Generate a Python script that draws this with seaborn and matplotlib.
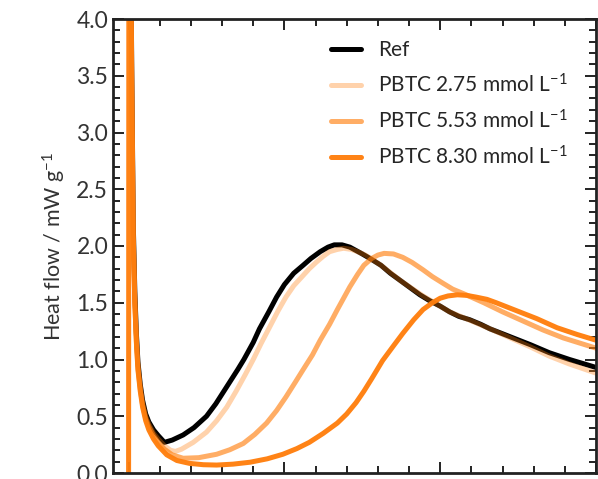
import numpy as np
import pandas as pd
import matplotlib
matplotlib.use("Agg")
import matplotlib.pyplot as plt
from matplotlib.ticker import MultipleLocator
import seaborn as sns

# ---- data (time in h, heat flow in mW/g) ----
labels = ["Ref", "PBTC 2.75 mmol L$^{-1}$", "PBTC 5.53 mmol L$^{-1}$", "PBTC 8.30 mmol L$^{-1}$"]

t_ref = [0.1, 0.2, 0.3, 0.4, 0.5, 0.6, 0.75, 0.9, 1.1, 1.3, 1.6, 1.9, 2.3, 2.8, 3.5, 4.2, 4.6, 5.0, 5.6,
         6.3, 7.0, 7.4, 8.0, 8.4, 9.0, 9.5, 10.0, 10.6, 11.2, 11.7, 12.3, 12.8, 13.2, 13.7, 14.2, 14.6,
         15.0, 15.5, 16.2, 16.8, 17.5, 18.1, 18.7, 19.3, 20.0, 20.6, 21.2, 21.9, 22.6, 23.2, 24.5, 25.8,
         27.0, 28.3, 30.0]
hf_ref = [5.5, 3.6, 2.2, 1.6, 1.23, 0.98, 0.78, 0.64, 0.52, 0.45, 0.38, 0.33, 0.27, 0.29, 0.335, 0.40,
          0.45, 0.50, 0.61, 0.76, 0.91, 1.0, 1.15, 1.27, 1.42, 1.55, 1.66, 1.76, 1.83, 1.89, 1.95, 1.99,
          2.01, 2.01, 1.99, 1.96, 1.93, 1.89, 1.83, 1.76, 1.69, 1.63, 1.57, 1.52, 1.47, 1.42, 1.38, 1.35,
          1.31, 1.27, 1.20, 1.13, 1.06, 1.00, 0.93]

t_275 = [0.1, 0.2, 0.3, 0.4, 0.5, 0.6, 0.75, 0.9, 1.1, 1.3, 1.6, 1.9, 2.3, 2.7, 3.0, 3.4, 4.15, 5.0, 5.65,
         6.3, 6.9, 7.5, 8.0, 8.5, 9.07, 9.6, 10.1, 10.6, 11.2, 11.6, 12.07, 12.5, 12.9, 13.4, 13.8, 14.3,
         14.7, 15.2, 16.2, 17.5, 18.9, 20.6, 22.0, 23.2, 24.5, 25.8, 27.0, 28.3, 30.0]
hf_275 = [5.3, 3.5, 2.1, 1.55, 1.2, 0.95, 0.76, 0.62, 0.50, 0.43, 0.35, 0.30, 0.24, 0.20, 0.19, 0.21,
          0.27, 0.36, 0.46, 0.58, 0.72, 0.87, 1.0, 1.14, 1.29, 1.43, 1.55, 1.65, 1.74, 1.80, 1.86, 1.91,
          1.95, 1.97, 1.98, 1.97, 1.95, 1.92, 1.83, 1.69, 1.56, 1.42, 1.34, 1.27, 1.19, 1.11, 1.03, 0.96,
          0.88]

t_553 = [0.1, 0.2, 0.3, 0.4, 0.5, 0.6, 0.75, 0.9, 1.1, 1.3, 1.6, 1.9, 2.3, 2.8, 3.5, 4.5, 5.65, 6.5, 7.36,
         8.1, 8.86, 9.5, 10.1, 10.7, 11.2, 11.8, 12.3, 12.9, 13.4, 13.8, 14.2, 14.7, 15.1, 15.6, 16.0,
         16.4, 17.0, 17.6, 18.2, 18.9, 19.5, 20.2, 20.8, 21.5, 22.8, 24.0, 25.3, 26.6, 27.9, 30.0]
hf_553 = [5.3, 3.4, 2.05, 1.5, 1.17, 0.93, 0.74, 0.60, 0.48, 0.41, 0.33, 0.27, 0.21, 0.16, 0.13, 0.135,
          0.165, 0.205, 0.26, 0.34, 0.44, 0.55, 0.67, 0.80, 0.91, 1.04, 1.17, 1.31, 1.44, 1.54, 1.64,
          1.75, 1.83, 1.89, 1.92, 1.935, 1.93, 1.90, 1.855, 1.79, 1.73, 1.67, 1.62, 1.58, 1.50, 1.42,
          1.34, 1.26, 1.19, 1.10]

t_830 = [0.0, 0.03, 0.1, 0.2, 0.3, 0.4, 0.5, 0.6, 0.75, 0.9, 1.1, 1.3, 1.6, 1.9, 2.45, 3.1, 3.9, 4.8, 5.65,
         6.7, 7.8, 8.9, 9.9, 10.8, 11.6, 12.5, 13.4, 14.0, 14.6, 15.1, 15.6, 16.3, 17.0, 17.6, 18.3,
         18.9, 19.5, 20.0, 20.5, 21.1, 21.7, 22.3, 23.0, 23.6, 24.9, 26.2, 27.5, 28.8, 30.0]
hf_830 = [-0.2, 8.0, 5.6, 3.5, 2.1, 1.5, 1.15, 0.91, 0.72, 0.58, 0.46, 0.38, 0.30, 0.24, 0.16, 0.11,
          0.085, 0.073, 0.07, 0.078, 0.095, 0.125, 0.165, 0.215, 0.27, 0.35, 0.44, 0.52, 0.62, 0.72,
          0.83, 0.99, 1.12, 1.23, 1.35, 1.44, 1.50, 1.54, 1.56, 1.57, 1.565, 1.55, 1.53, 1.50, 1.43,
          1.36, 1.28, 1.22, 1.17]

# colours: black reference and one orange at three opacities
colors = ["#000000", "#FF7F0E", "#FF7F0E", "#FF7F0E"]
alphas = [1.0, 0.35, 0.64, 0.97]

frames = []
for lab, t, hf in zip(labels, [t_ref, t_275, t_553, t_830], [hf_ref, hf_275, hf_553, hf_830]):
    frames.append(pd.DataFrame({"t": t, "hf": hf, "series": lab}))
df = pd.concat(frames, ignore_index=True)

# ---- style ----
sns.set_style("ticks")
plt.rcParams["font.family"] = ["Lato", "DejaVu Sans"]
plt.rcParams["mathtext.fontset"] = "custom"
plt.rcParams["mathtext.rm"] = "Lato"
plt.rcParams["mathtext.it"] = "Lato:italic"
plt.rcParams["mathtext.default"] = "regular"

fig = plt.figure(figsize=(5.98, 4.79), dpi=100)
ax = fig.add_axes([113 / 598, 6 / 479, 483 / 598, 454 / 479])

LW = 3.6
for lab, col, a in zip(labels, colors, alphas):
    sns.lineplot(data=df[df["series"] == lab], x="t", y="hf", color=col, alpha=a, lw=LW,
                 estimator=None, sort=False, ax=ax, legend=False)

ax.set_xlim(-1, 30)
ax.set_ylim(0, 4)
ax.xaxis.set_major_locator(MultipleLocator(10))
ax.xaxis.set_minor_locator(MultipleLocator(2))
ax.yaxis.set_major_locator(MultipleLocator(0.5))
ax.yaxis.set_minor_locator(MultipleLocator(0.1))
ax.tick_params(which="both", direction="in", top=True, right=True, width=1.4, color="#222222",
               labelcolor="#333333", labelsize=16.5)
ax.tick_params(which="major", length=8)
ax.tick_params(which="minor", length=5)
ax.tick_params(axis="x", labelbottom=False)
for s in ax.spines.values():
    s.set_linewidth(2)
    s.set_color("#222222")

ax.set_xlabel("")
ax.set_ylabel("Heat flow / mW g$^{-1}$", fontsize=15.5, color="#333333", labelpad=6)

handles = [plt.Line2D([], [], color=c, alpha=a, lw=LW) for c, a in zip(colors, alphas)]
ax.legend(handles, labels, frameon=False, loc="upper left", fontsize=15,
          bbox_to_anchor=((331 - 113) / 483, (473 - 40) / 454), borderpad=0, borderaxespad=0,
          handlelength=1.44, handletextpad=0.82, labelspacing=0.62)

fig.savefig("out.png", dpi=100)
